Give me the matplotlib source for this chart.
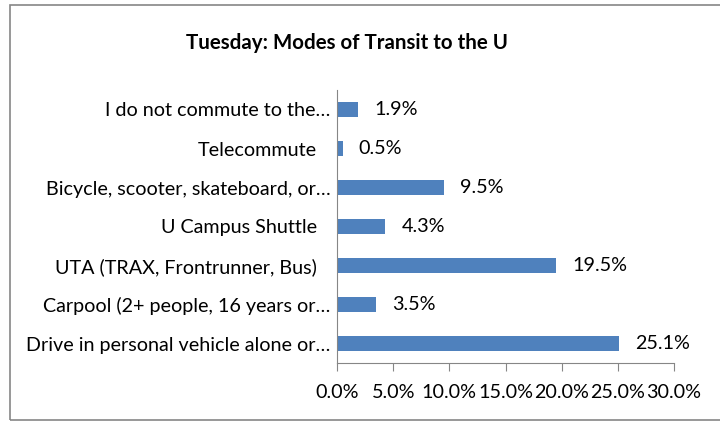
import matplotlib.pyplot as plt
from matplotlib.patches import Rectangle
from matplotlib.transforms import ScaledTranslation

# categories, bottom to top as drawn
categories = [
    "Drive in personal vehicle alone or…",
    "Carpool (2+ people, 16 years or…",
    "UTA (TRAX, Frontrunner, Bus)",
    "U Campus Shuttle",
    "Bicycle, scooter, skateboard, or…",
    "Telecommute",
    "I do not commute to the…",
]
percent = [25.1, 3.5, 19.5, 4.3, 9.5, 0.5, 1.9]
xticks = [0, 5, 10, 15, 20, 25, 30]

TITLE = "Tuesday: Modes of Transit to the U"
BAR_COLOR = "#4F81BD"
GRID_GRAY = "#868686"
FS = 14.2

plt.rcParams['font.family'] = ['Lato', 'DejaVu Sans']

W, H = 720, 421
fig = plt.figure(figsize=(W / 100, H / 100), dpi=100)

# outer chart frame
fig.patches.append(Rectangle((10 / W, 1 - 420 / H), 712 / W, 415 / H,
                             transform=fig.transFigure, fill=False,
                             edgecolor=GRID_GRAY, linewidth=1.2))

ax = fig.add_axes([337 / W, 1 - 363 / H, (674 - 337) / W, (363 - 90) / H])

ypos = list(range(len(categories)))
bars = ax.barh(ypos, percent, height=0.4, color=BAR_COLOR)
ax.bar_label(bars, labels=[f"{v:.1f}%" for v in percent], padding=11.5,
             fontsize=FS, color="black")

ax.set_xlim(0, 30)
ax.set_ylim(-0.5, len(categories) - 0.5)
ax.set_xticks(xticks)
ax.set_xticklabels([f"{t:.1f}%" for t in xticks], fontsize=FS)
ax.set_yticks(ypos)
ax.set_yticklabels(categories, fontsize=FS)

for s in ["top", "right"]:
    ax.spines[s].set_visible(False)
ax.spines["left"].set_color(GRID_GRAY)
ax.spines["bottom"].set_color(GRID_GRAY)
ax.tick_params(axis="x", direction="out", length=6, color=GRID_GRAY, pad=9)
ax.tick_params(axis="y", length=0, pad=14.5)

# Excel lets the ellipsis of truncated labels stick out further right
shift = ScaledTranslation(14 / 100, 0, fig.dpi_scale_trans)
for lab in ax.get_yticklabels():
    if lab.get_text().endswith("…"):
        lab.set_transform(lab.get_transform() + shift)

fig.text(347 / W, 1 - 43 / H, TITLE, ha="center", va="center",
         fontsize=14.8, fontweight="bold")

fig.savefig("out.png", dpi=100)
